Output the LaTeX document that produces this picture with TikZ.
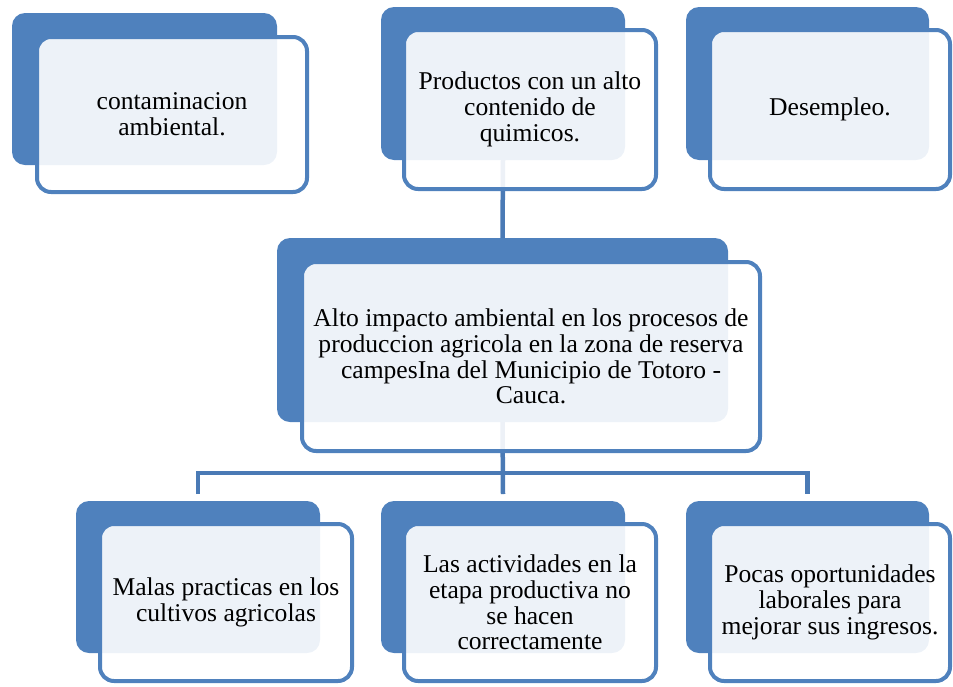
\documentclass[tikz,border=0pt]{standalone}
\usepackage{fontspec}
\setmainfont{Liberation Serif}
\definecolor{sblue}{HTML}{4F81BD}
\definecolor{lblue}{HTML}{4A7AB5}
\tikzset{
  backbox/.style={fill=sblue, rounded corners=13pt, inner sep=0pt, outer sep=0pt},
  frontbox/.style={draw=sblue, line width=4pt, fill=white, fill opacity=0.9, text opacity=1,
    rounded corners=14pt, inner sep=0pt, outer sep=0pt, align=center,
    font=\fontsize{25.6}{25.8}\selectfont, text=black},
  conn/.style={draw=lblue, line width=4.5pt}
}
\begin{document}
\begin{tikzpicture}[x=1pt,y=-1pt]
\useasboundingbox (0,0) rectangle (953,686);
% back boxes
\node[backbox, minimum width=265pt, minimum height=152pt] (b1) at (144.5,89) {};
\node[backbox, minimum width=244pt, minimum height=153pt] (b2) at (503,83.5) {};
\node[backbox, minimum width=243pt, minimum height=153pt] (b3) at (807.5,83.5) {};
\node[backbox, minimum width=451pt, minimum height=184pt] (bc) at (502.5,330) {};
\node[backbox, minimum width=244pt, minimum height=152pt] (b4) at (198,577) {};
\node[backbox, minimum width=244pt, minimum height=152pt] (b5) at (503,577) {};
\node[backbox, minimum width=243pt, minimum height=152pt] (b6) at (807.5,577) {};
% connectors
\coordinate (hl) at (198,473);
\draw[conn] (b2.south) -- (bc.north);
\draw[conn] (bc.south) -- ([yshift=7pt]b5.north);
\draw[conn, line join=miter] ([yshift=7pt]b4.north) -- (b4.north |- hl) -- (b6.north |- hl) -- ([yshift=7pt]b6.north);
% front boxes
\node[frontbox, minimum width=270pt, minimum height=155pt] (f1) at (172,114.5) {contaminacion\\ambiental.};
\node[frontbox, minimum width=252pt, minimum height=159pt] (f2) at (530,109.5) {Productos con un alto\\contenido de\\quimicos.};
\node[frontbox, minimum width=240pt, minimum height=159pt] (f3) at (830,109.5) {Desempleo.};
\node[frontbox, minimum width=458pt, minimum height=189pt] (fc) at (531,356.5) {Alto impacto ambiental en los procesos de\\produccion agricola en la zona de reserva\\campesIna del Municipio de Totoro -\\Cauca.};
\node[frontbox, minimum width=252pt, minimum height=157pt] (f4) at (226,602.5) {Malas practicas en los\\cultivos agricolas};
\node[frontbox, minimum width=252pt, minimum height=157pt] (f5) at (530,602.5) {Las actividades en la\\etapa productiva no\\se hacen\\correctamente};
\node[frontbox, minimum width=240pt, minimum height=157pt] (f6) at (830,602.5) {Pocas oportunidades\\laborales para\\mejorar sus ingresos.};
\end{tikzpicture}
\end{document}
